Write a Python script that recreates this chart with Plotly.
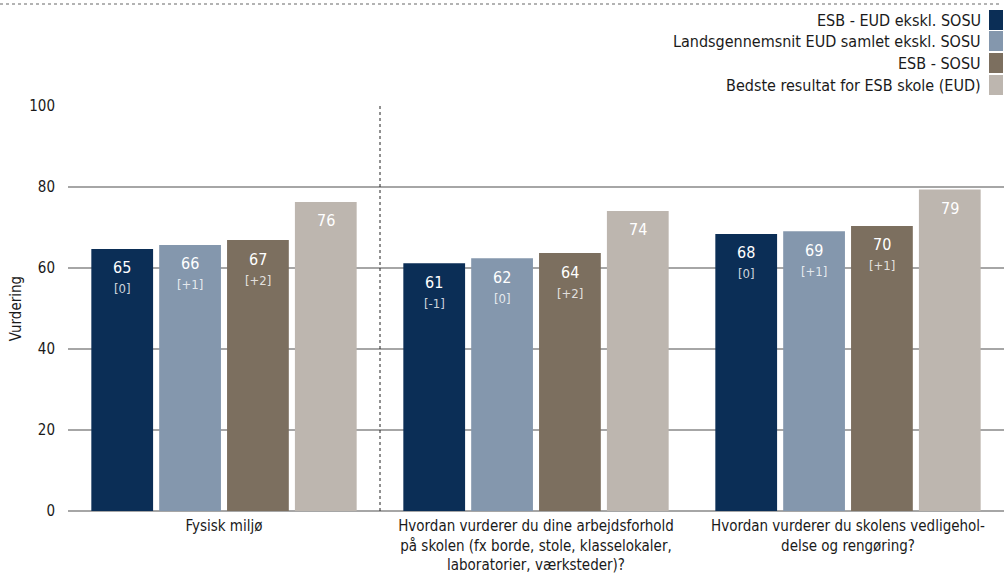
import plotly.graph_objects as go

FONT = "Tahoma, 'DejaVu Sans Condensed', 'Liberation Sans', sans-serif"

categories = [
    "Fysisk miljø",
    "Hvordan vurderer du dine arbejdsforhold<br>på skolen (fx borde, stole, klasselokaler,<br>laboratorier, værksteder)?",
    "Hvordan vurderer du skolens vedligehol-<br>delse og rengøring?",
]

series_names = [
    "ESB - EUD ekskl. SOSU",
    "Landsgennemsnit EUD samlet ekskl. SOSU",
    "ESB - SOSU",
    "Bedste resultat for ESB skole (EUD)",
]
series_colors = ["#0b2e56", "#8497ad", "#7c6f5f", "#bdb6af"]

esb_eud = [64.7, 61.2, 68.4]
lands_eud = [65.7, 62.4, 69.1]
esb_sosu = [66.9, 63.7, 70.4]
bedste = [76.3, 74.1, 79.4]

diff_esb_eud = ["[0]", "[-1]", "[0]"]
diff_lands_eud = ["[+1]", "[0]", "[+1]"]
diff_esb_sosu = ["[+2]", "[+2]", "[+1]"]
diff_bedste = ["", "", ""]

series_values = [esb_eud, lands_eud, esb_sosu, bedste]
series_diffs = [diff_esb_eud, diff_lands_eud, diff_esb_sosu, diff_bedste]

BARGAP = 0.13
fig = go.Figure()
for name, color, vals in zip(series_names, series_colors, series_values):
    fig.add_trace(go.Bar(x=categories, y=vals, name=name, marker_color=color,
                         marker_line_width=0, showlegend=False))

# value labels inside bars
n = len(series_values)
slot = (1 - BARGAP) / n
ann = []
for si, (vals, diffs) in enumerate(zip(series_values, series_diffs)):
    for gi, v in enumerate(vals):
        xpos = gi + (si - (n - 1) / 2) * slot
        ann.append(dict(x=xpos, y=v, xref="x", yref="y", text=f"{v:.0f}",
                        showarrow=False, yanchor="middle", yshift=-19,
                        font=dict(size=16, color="white", family=FONT)))
        if diffs[gi]:
            ann.append(dict(x=xpos, y=v, xref="x", yref="y", text=diffs[gi],
                            showarrow=False, yanchor="middle", yshift=-40,
                            font=dict(size=13, color="rgba(255,255,255,0.8)", family=FONT)))

# legend drawn at the right, swatch after the text
leg_centers = [86, 65, 43, 21]  # px above the plot top
shapes = []
for name, color, yc in zip(series_names, series_colors, leg_centers):
    ann.append(dict(x=1, y=1, xref="paper", yref="paper", text=name, showarrow=False,
                    xanchor="right", yanchor="middle", xshift=-21, yshift=yc,
                    font=dict(size=16, color="#1a1a1a", family=FONT)))
    shapes.append(dict(type="rect", xref="paper", yref="paper", xsizemode="pixel",
                       ysizemode="pixel", xanchor=1, yanchor=1, x0=-15, x1=-1,
                       y0=yc - 10, y1=yc + 10, fillcolor=color, line_width=0))

# dotted rule at the top and separator after first group
shapes.append(dict(type="line", xref="paper", yref="paper", xsizemode="pixel",
                   ysizemode="pixel", xanchor=0, yanchor=1, x0=-68, x1=932,
                   y0=102, y1=102, line=dict(color="#9a9a9a", width=1.5, dash="dot")))
shapes.append(dict(type="line", xref="x", yref="y", x0=0.5, x1=0.5, y0=0, y1=100,
                   line=dict(color="#222222", width=1, dash="dot")))

fig.update_layout(
    width=1004, height=577,
    barmode="group", bargap=BARGAP, bargroupgap=0.09,
    paper_bgcolor="white", plot_bgcolor="white",
    margin=dict(l=68, r=0, t=106, b=66),
    font=dict(family=FONT, size=15, color="#1a1a1a"),
    annotations=ann, shapes=shapes,
    xaxis=dict(showgrid=False, ticks="", ticklabelstandoff=4,
               tickfont=dict(size=15)),
    yaxis=dict(range=[0, 100], tickvals=[0, 20, 40, 60, 80, 100],
               gridcolor="#a6a6a6", gridwidth=1.5, zeroline=True,
               zerolinecolor="#a6a6a6", zerolinewidth=1.5,
               ticklabelstandoff=12, tickfont=dict(size=15),
               title=dict(text="Vurdering", standoff=3, font=dict(size=15))),
)
fig.write_html("out.html", config={"displayModeBar": False},
               post_script="document.body.style.margin='0';")
